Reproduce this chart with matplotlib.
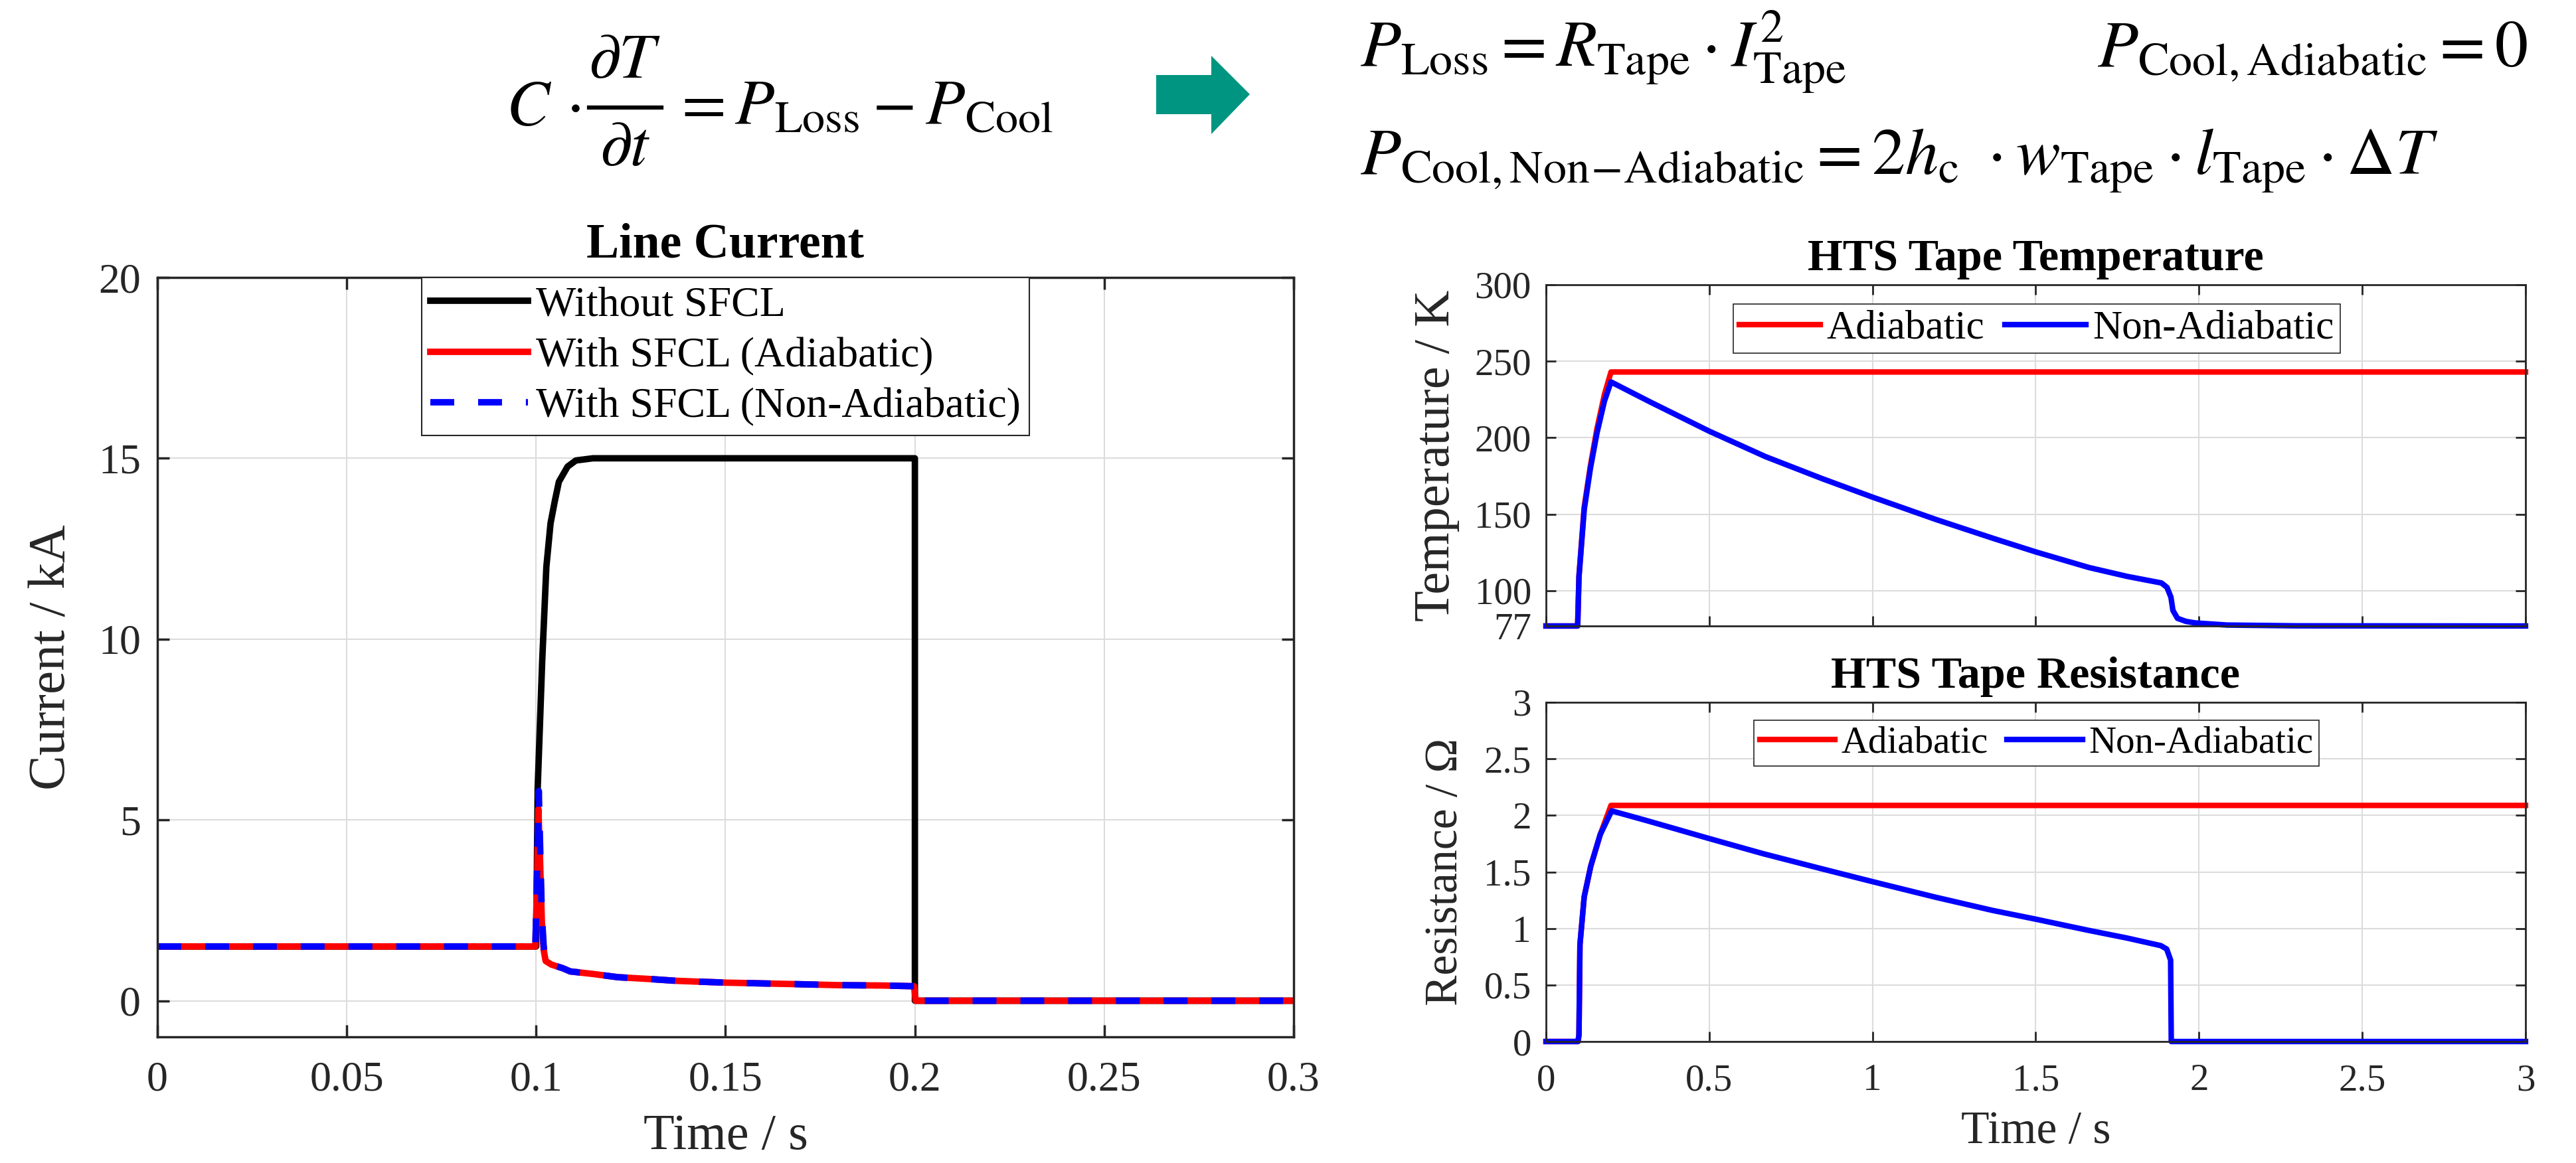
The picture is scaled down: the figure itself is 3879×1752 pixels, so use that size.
import matplotlib
matplotlib.use('Agg')
import matplotlib.pyplot as plt
from matplotlib.patches import Polygon
from matplotlib.lines import Line2D

plt.rcParams['font.family'] = ['Liberation Serif', 'DejaVu Serif']
plt.rcParams['mathtext.fontset'] = 'stix'

# --- line current (kA) vs time (s) ---
t_no_sfcl = [0, 0.1, 0.1004, 0.1016, 0.1027, 0.1038, 0.1049, 0.106, 0.1083, 0.1105, 0.115, 0.2, 0.2, 0.3]
i_no_sfcl = [1.5, 1.5, 5.86, 9.4, 12.0, 13.2, 13.8, 14.35, 14.77, 14.94, 15.0, 15.0, 0.0, 0.0]

t_sfcl_adi = [0, 0.0998, 0.1003, 0.1006, 0.101, 0.1015, 0.102, 0.1025, 0.104, 0.107, 0.109, 0.115,
              0.1216, 0.13, 0.137, 0.15, 0.168, 0.18, 0.192, 0.1998, 0.2002, 0.3]
i_sfcl_adi = [1.5, 1.5, 3.5, 5.3, 4.0, 2.2, 1.4, 1.1, 1.0, 0.9, 0.81, 0.74,
              0.65, 0.6, 0.55, 0.5, 0.46, 0.43, 0.42, 0.40, 0.0, 0.0]

t_sfcl_non = [0, 0.0998, 0.1003, 0.1007, 0.101, 0.1015, 0.102, 0.1025, 0.104, 0.107, 0.109, 0.115,
              0.1216, 0.13, 0.137, 0.15, 0.168, 0.18, 0.192, 0.1998, 0.2002, 0.3]
i_sfcl_non = [1.5, 1.5, 3.8, 5.8, 4.5, 2.4, 1.5, 1.1, 1.0, 0.9, 0.81, 0.74,
              0.65, 0.6, 0.55, 0.5, 0.46, 0.43, 0.42, 0.40, 0.0, 0.0]

# --- HTS tape temperature (K) ---
t_temp_adi = [0, 0.097, 0.101, 0.117, 0.136, 0.156, 0.179, 0.199, 3.0]
temp_adi = [77, 77, 109.7, 154.7, 181.7, 205.8, 228.3, 243.0, 243.0]

t_temp_non = [0, 0.097, 0.101, 0.117, 0.136, 0.156, 0.179, 0.199, 0.321, 0.5, 0.672, 0.847, 1.0,
              1.197, 1.372, 1.5, 1.663, 1.78, 1.885, 1.902, 1.914, 1.920, 1.934, 1.96, 1.988,
              2.086, 2.3, 3.0]
temp_non = [77, 77, 109, 153, 180, 203, 224, 236.5, 223.2, 204.3, 187.7, 173.2, 161.2,
            146.4, 134.1, 125.4, 115.2, 109.4, 105.1, 102.2, 95.8, 87.2, 82, 80, 79,
            77.6, 77.1, 77]

# --- HTS tape resistance (Ohm) ---
t_res_adi = [0, 0.098, 0.101, 0.104, 0.117, 0.137, 0.166, 0.199, 3.0]
res_adi = [0, 0, 0.06, 0.857, 1.28, 1.55, 1.83, 2.088, 2.088]

t_res_non = [0, 0.098, 0.101, 0.104, 0.117, 0.137, 0.166, 0.201, 0.312, 0.5, 0.664, 0.84, 1.0,
             1.192, 1.367, 1.5, 1.66, 1.778, 1.883, 1.901, 1.913, 1.915, 3.0]
res_non = [0, 0, 0.06, 0.857, 1.28, 1.55, 1.83, 2.04, 1.951, 1.795, 1.662, 1.531, 1.414,
           1.277, 1.16, 1.082, 0.984, 0.916, 0.848, 0.818, 0.72, 0.0, 0.0]

# tick labels
cur_xticks = [0, 0.05, 0.1, 0.15, 0.2, 0.25, 0.3]
cur_xlabels = ['0', '0.05', '0.1', '0.15', '0.2', '0.25', '0.3']
cur_yticks = [0, 5, 10, 15, 20]
hts_xticks = [0, 0.5, 1, 1.5, 2, 2.5, 3]
hts_xlabels = ['0', '0.5', '1', '1.5', '2', '2.5', '3']
temp_yticks = [77, 100, 150, 200, 250, 300]
res_yticks = [0, 0.5, 1, 1.5, 2, 2.5, 3]
res_ylabels = ['0', '0.5', '1', '1.5', '2', '2.5', '3']

DARK = '#262626'
W, H = 3880, 1752


def style(ax, ticklen, spw, labsize):
    ax.tick_params(direction='in', top=True, right=True, length=ticklen, width=spw,
                   colors=DARK, labelsize=labsize)
    for s in ax.spines.values():
        s.set_linewidth(spw)
        s.set_color(DARK)
    ax.grid(True, color='#dcdcdc', linewidth=1.5)
    ax.set_axisbelow(True)


fig = plt.figure(figsize=(W / 100, H / 100), dpi=100)

# ---------------- left: line current ----------------
ax1 = fig.add_axes([237 / W, 1 - 1562 / H, (1948 - 237) / W, (1562 - 418) / H])
ax1.plot(t_no_sfcl, i_no_sfcl, color='black', lw=7, label='Without SFCL')
ax1.plot(t_sfcl_adi, i_sfcl_adi, color='red', lw=7, label='With SFCL (Adiabatic)')
ax1.plot(t_sfcl_non, i_sfcl_non, color='blue', lw=7, dashes=(3.7, 3.7),
         label='With SFCL (Non-Adiabatic)')
ax1.set_xlim(0, 0.3)
ax1.set_ylim(-1, 20)
ax1.set_xticks(cur_xticks)
ax1.set_xticklabels(cur_xlabels)
ax1.set_yticks(cur_yticks)
style(ax1, 13, 2.5, 46)
ax1.tick_params(axis='x', pad=26)
ax1.tick_params(axis='y', pad=18)
ax1.set_title('Line Current', fontsize=53, fontweight='bold', pad=22)
ax1.set_xlabel('Time / s', fontsize=55, color=DARK, labelpad=16)
ax1.set_ylabel('Current / kA', fontsize=57, color=DARK, labelpad=24)
leg = ax1.legend(loc='upper center', bbox_to_anchor=(0.5, 1.0), borderaxespad=0,
                 fontsize=46, handlelength=2.3, handletextpad=0.2, labelspacing=0.28,
                 borderpad=0.2, fancybox=False, framealpha=1, edgecolor=DARK)
leg.get_frame().set_linewidth(1.5)

# ---------------- right top: temperature ----------------
ax2 = fig.add_axes([2328 / W, 1 - 943 / H, (3803 - 2328) / W, (943 - 429) / H])
ax2.plot(t_temp_adi, temp_adi, color='red', lw=6, label='Adiabatic', clip_on=False)
ax2.plot(t_temp_non, temp_non, color='blue', lw=6, label='Non-Adiabatic', clip_on=False)
ax2.set_xlim(0, 3)
ax2.set_ylim(77, 300)
ax2.set_xticks(hts_xticks)
ax2.set_xticklabels([])
ax2.set_yticks(temp_yticks)
style(ax2, 11, 2, 41)
ax2.tick_params(axis='y', pad=16)
ax2.set_title('HTS Tape Temperature', fontsize=49, fontweight='bold', pad=16)
ax2.set_ylabel('Temperature / K', fontsize=55, color=DARK, labelpad=16)
leg2 = ax2.legend(loc='upper center', bbox_to_anchor=(0.5007, 0.9436), borderaxespad=0,
                  ncol=2, fontsize=44, handlelength=2.0, handletextpad=0.16,
                  columnspacing=0.5, borderpad=0.15, fancybox=False, framealpha=1,
                  edgecolor=DARK)
leg2.get_frame().set_linewidth(1.2)

# ---------------- right bottom: resistance ----------------
ax3 = fig.add_axes([2328 / W, 1 - 1569 / H, (3803 - 2328) / W, (1569 - 1058) / H])
ax3.plot(t_res_adi, res_adi, color='red', lw=6, label='Adiabatic', clip_on=False)
ax3.plot(t_res_non, res_non, color='blue', lw=6, label='Non-Adiabatic', clip_on=False)
ax3.set_xlim(0, 3)
ax3.set_ylim(0, 3)
ax3.set_xticks(hts_xticks)
ax3.set_xticklabels(hts_xlabels)
ax3.set_yticks(res_yticks)
ax3.set_yticklabels(res_ylabels)
style(ax3, 11, 2, 41)
ax3.tick_params(axis='x', pad=24)
ax3.tick_params(axis='y', pad=16)
ax3.set_title('HTS Tape Resistance', fontsize=49, fontweight='bold', pad=16)
ax3.set_xlabel('Time / s', fontsize=50, color=DARK, labelpad=14)
ax3.set_ylabel('Resistance / Ω', fontsize=50, color=DARK, labelpad=18)
leg3 = ax3.legend(loc='upper center', bbox_to_anchor=(0.5007, 0.947), borderaxespad=0,
                  ncol=2, fontsize=41, handlelength=2.0, handletextpad=0.16,
                  columnspacing=0.5, borderpad=0.15, fancybox=False, framealpha=1,
                  edgecolor=DARK)
leg3.get_frame().set_linewidth(1.2)

# ---------------- equations + arrow ----------------
eq_size = 70
fig.text(762 / W, 1 - 188 / H, r'$C\,\cdot$', fontsize=eq_size, ha='left', va='baseline')
fig.text(941 / W, 1 - 117 / H, r'$\partial T$', fontsize=eq_size, ha='center', va='baseline')
fig.text(941 / W, 1 - 249 / H, r'$\partial t$', fontsize=eq_size, ha='center', va='baseline')
fig.lines.append(Line2D([887 / W, 996 / W], [1 - 162 / H, 1 - 162 / H], lw=4.5,
                        color='black', transform=fig.transFigure))
fig.text(1012 / W, 1 - 188 / H, r'$= P_{\mathrm{Loss}} - P_{\mathrm{Cool}}$',
         fontsize=eq_size, ha='left', va='baseline')

fig.text(2048 / W, 1 - 100 / H,
         r'$P_{\mathrm{Loss}} = R_{\mathrm{Tape}}\cdot I_{\mathrm{Tape}}^{2}$',
         fontsize=72, ha='left', va='baseline')
fig.text(3806 / W, 1 - 100 / H,
         r'$P_{\mathrm{Cool,Adiabatic}} = 0$',
         fontsize=72, ha='right', va='baseline')
fig.text(2048 / W, 1 - 262 / H,
         r'$P_{\mathrm{Cool,Non\!-\!Adiabatic}} = 2h_{\mathrm{c}}\ \cdot w_{\mathrm{Tape}}'
         r'\cdot l_{\mathrm{Tape}}\cdot \Delta T$',
         fontsize=72, ha='left', va='baseline')

arrow_px = [(1741, 113), (1824, 113), (1824, 84), (1882, 142), (1824, 202), (1824, 172), (1741, 172)]
fig.patches.append(Polygon([(x / W, 1 - y / H) for x, y in arrow_px], closed=True,
                           transform=fig.transFigure, facecolor='#009580', edgecolor='none'))

fig.savefig('out.png', dpi=100)
